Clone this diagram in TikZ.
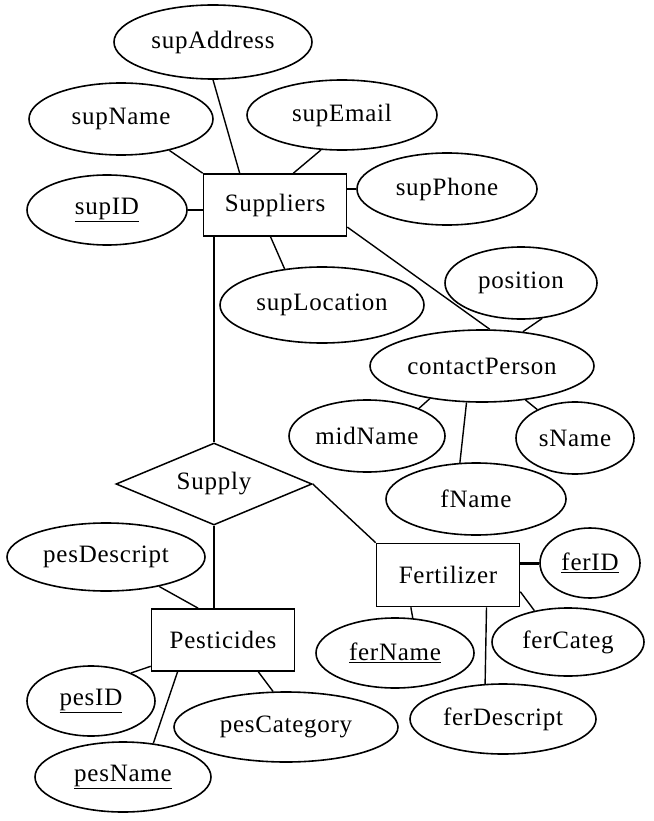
\documentclass[tikz,border=0pt]{standalone}
\usepackage{fontspec}
\setmainfont{Liberation Serif}[LetterSpace=3]
\usetikzlibrary{shapes.geometric}
\begin{document}
\begin{tikzpicture}[x=1pt,y=-1pt,
  every node/.style={font=\fontsize{25}{30}\selectfont},
  attr/.style={ellipse, draw, line width=1.6pt, inner sep=0pt},
  ent/.style={rectangle, draw, line width=1.6pt, minimum width=143pt, minimum height=62pt, inner sep=0pt},
  rel/.style={diamond, draw, line width=1.5pt, aspect=2.4, inner sep=0pt, minimum width=196pt, minimum height=82pt},
  conn/.style={line width=1.4pt},
  thickconn/.style={line width=3pt}]
\useasboundingbox[fill=white] (0,0) rectangle (653,821);

\node[attr, minimum width=198pt, minimum height=74pt] (supAddress) at (213,42) {supAddress};
\node[attr, minimum width=184pt, minimum height=72pt] (supName) at (121,119) {supName};
\node[attr, minimum width=190pt, minimum height=70pt] (supEmail) at (342,115) {supEmail};
\node[attr, minimum width=160pt, minimum height=70pt] (supID) at (107,210) {\underline{supID}};
\node[ent] (Suppliers) at (275,205) {Suppliers};
\node[attr, minimum width=180pt, minimum height=72pt] (supPhone) at (447,189) {supPhone};
\node[attr, minimum width=204pt, minimum height=76pt] (supLocation) at (322,305) {supLocation};
\node[attr, minimum width=152pt, minimum height=72pt] (position) at (521,283) {position};
\node[attr, minimum width=224pt, minimum height=72pt] (contactPerson) at (482,366) {contactPerson};
\node[attr, minimum width=156pt, minimum height=72pt] (midName) at (367,436) {midName};
\node[attr, minimum width=118pt, minimum height=72pt] (sName) at (575,438) {sName};
\node[attr, minimum width=180pt, minimum height=72pt] (fName) at (476,499) {fName};
\node[rel] (Supply) at (214,484) {Supply};
\node[attr, minimum width=198pt, minimum height=68pt] (pesDescript) at (106,557) {pesDescript};
\node[ent, minimum height=63pt] (Fertilizer) at (448,575) {Fertilizer};
\node[attr, minimum width=100pt, minimum height=70pt] (ferID) at (590,563) {\underline{ferID}};
\node[ent] (Pesticides) at (223,640) {Pesticides};
\node[attr, minimum width=158pt, minimum height=70pt] (ferName) at (395,653) {\underline{ferName}};
\node[attr, minimum width=152pt, minimum height=68pt] (ferCateg) at (568,642) {ferCateg};
\node[attr, minimum width=128pt, minimum height=70pt] (pesID) at (91,701) {\underline{pesID}};
\node[attr, minimum width=224pt, minimum height=70pt] (pesCategory) at (286,727) {pesCategory};
\node[attr, minimum width=186pt, minimum height=70pt] (ferDescript) at (503,719) {ferDescript};
\node[attr, minimum width=176pt, minimum height=70pt] (pesName) at (123,777) {\underline{pesName}};

\draw[conn] (supAddress.south) -- (Suppliers.138.6);
\draw[conn] (supName.-33) -- (Suppliers.north west);
\draw[conn] (supEmail.239) -- (Suppliers.60.5);
\draw[conn] (supID.east) -- (supID.east -| Suppliers.west);
\draw[conn] (supPhone.west) -- (supPhone.west -| Suppliers.east);
\draw[conn] (Suppliers.262.5) -- (supLocation.136);
\draw[conn] (Suppliers.-17.8) -- (contactPerson.78);
\draw[conn] (position.-59) -- (contactPerson.40);
\draw[conn] (contactPerson.212) -- (midName.28);
\draw[conn] (contactPerson.247) -- (fName.114);
\draw[conn] (contactPerson.-38) -- (sName.143);
\draw[conn] (Supply.north |- Suppliers.south) -- (Supply.north);
\draw[conn] (Supply.east) -- (Fertilizer.north west);
\draw[conn] (Supply.south) -- (Supply.south |- Pesticides.north);
\draw[conn] (pesDescript.-29) -- (Pesticides.128);
\draw[conn] (Pesticides.200) -- (pesID.35);
\draw[conn] (Pesticides.215.3) -- (pesName.48);
\draw[conn] (Pesticides.-42.7) -- (pesCategory.110);
\draw[thickconn] (Fertilizer.east |- ferID.west) -- (ferID.west);
\draw[conn] (Fertilizer.-13) -- (ferCateg.137);
\draw[conn] (Fertilizer.221.2) -- (ferName.63);
\draw[conn] (Fertilizer.-40.4) -- (ferDescript.117);
\end{tikzpicture}
\end{document}
